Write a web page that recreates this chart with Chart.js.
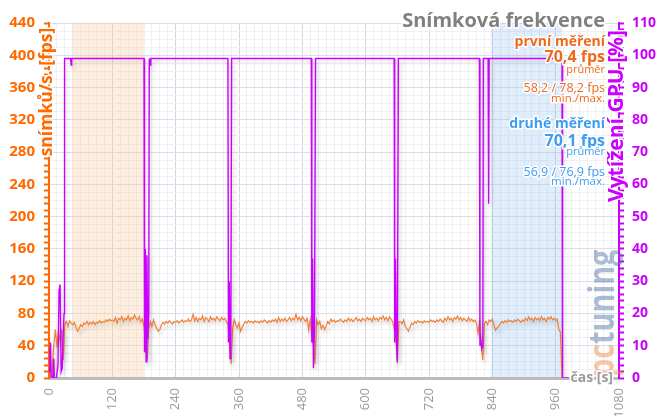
<!DOCTYPE html>
<html>
<head>
<meta charset="utf-8">
<script src="https://cdn.jsdelivr.net/npm/chart.js@4.4.1/dist/chart.umd.min.js"></script>
<style>
  html, body { margin: 0; padding: 0; background: #fff; }
</style>
</head>
<body>
<canvas id="chart" width="659" height="418"></canvas>
<script>
// snímková frekvence, vzorek každé 3 s (0 .. 972 s)
const fpsStep = 3;
const fpsValues = [
  0, 2, 12, 40, 60, 38, 58, 45, 60, 22, 66,
  70, 64, 71, 68, 66, 69, 63, 58, 61, 66, 64, 68, 67, 70, 66, 69, 67, 70, 66, 69, 68, 71, 68, 70, 69, 72, 70, 73, 71, 72, 70, 75, 68, 74, 72, 76, 70, 74, 72, 77, 71, 75, 73, 78, 74, 72, 76, 70, 73,
  64, 42, 23, 60,
  70, 64, 72, 66, 62, 58, 60, 66, 69, 67, 70, 68, 71, 69, 67, 70, 69, 71, 68, 70, 72, 69, 71, 70, 73, 70, 72, 79, 71, 75, 70, 74, 72, 77, 70, 75, 73, 70, 76, 72, 74, 71, 76, 73, 71, 75, 72, 74, 70,
  66, 45, 17, 62,
  72, 66, 62, 68, 58, 63, 67, 70, 68, 71, 69, 70, 68, 71, 69, 70, 68, 71, 69, 72, 70, 68, 71, 69, 72, 70, 73, 69, 75, 70, 73, 71, 74, 70, 72, 75, 71, 74, 72, 79, 72, 75, 71, 76, 73, 70, 74, 59, 72,
  55, 40, 17, 72,
  66, 70, 61, 65, 60, 64, 70, 67, 73, 70, 72, 69, 71, 70, 73, 71, 69, 72, 70, 74, 71, 73, 70, 72, 75, 71, 73, 70, 74, 72, 71, 75, 72, 74, 70, 76, 72, 74, 71, 75, 73, 77, 72, 75, 71, 76, 73, 70,
  62, 48, 18, 70,
  70, 67, 72, 64, 61, 58, 63, 68, 66, 70, 68, 71, 69, 70, 68, 71, 69, 70, 69, 72, 70, 71, 69, 72, 70, 73, 71, 69, 74, 71, 76, 72, 74, 70, 75, 73, 77, 72, 75, 71, 74, 72, 70, 75, 71, 73, 70, 72, 68,
  55, 72, 40, 22, 68,
  70, 66, 72, 70, 73, 66, 59, 62, 64, 67, 70, 68, 71, 69, 72, 70, 71, 69, 72, 70, 73, 71, 69, 72, 70, 74, 71, 76, 72, 74, 70, 75, 72, 74, 71, 76, 72, 74, 70, 75, 73, 76, 72, 74, 71, 73, 60, 57,
  0
];

// vytížení GPU [%]
const gpuTimes = [0, 1.5, 3, 4, 7, 9, 10, 14, 17, 19, 21, 23, 25, 27, 28.5, 29.5, 41, 42, 43,
  180, 181, 182.5, 184, 185.5, 187, 189, 190, 191, 192, 193,
  339, 340, 341.5, 343, 344.5, 346,
  497, 498, 499.5, 501, 503, 505,
  654, 655, 656.5, 658, 660, 662,
  815.5, 816.5, 818, 820, 822, 823, 832, 833, 834,
  972, 973, 984];
const gpuValues = [2, 8, 11, 0, 0, 6, 0, 0, 4, 27, 29, 2, 3, 14, 20, 99, 99, 97, 99,
  99, 8, 40, 5, 38, 12, 20, 99, 97, 97, 99,
  99, 11, 30, 6, 12, 99,
  99, 11, 37, 3, 15, 99,
  99, 11, 37, 14, 5, 99,
  99, 10, 12, 9, 10, 99, 99, 54, 99,
  99, 0, 0];

// zvýrazněné úseky měření [s]
const firstRun = [44, 180];
const secondRun = [838, 972];

const timeLabels = [0, 120, 240, 360, 480, 600, 720, 840, 960, 1080];
const fpsLabels = [0, 40, 80, 120, 160, 200, 240, 280, 320, 360, 400, 440];
const gpuLabels = [0, 10, 20, 30, 40, 50, 60, 70, 80, 90, 100, 110];

const firstStats = ['první měření', '70,4 fps', 'průměr', '58,2 / 78,2 fps', 'min./max.'];
const secondStats = ['druhé měření', '70,1 fps', 'průměr', '56,9 / 76,9 fps', 'min./max.'];

const FONT = '"Open Sans", "DejaVu Sans", sans-serif';
const ORANGE = '#ff6a00';
const PURPLE = '#cc00ff';

const fpsPoints = fpsValues.map((v, i) => ({ x: i * fpsStep, y: v }));
const gpuPoints = gpuTimes.map((t, i) => ({ x: t, y: gpuValues[i] }));

const runBands = {
  id: 'runBands',
  beforeDatasetsDraw(chart) {
    const { ctx, chartArea, scales } = chart;
    const draw = (range, color) => {
      const x0 = scales.x.getPixelForValue(range[0]);
      const x1 = scales.x.getPixelForValue(range[1]);
      ctx.fillStyle = color;
      ctx.fillRect(x0, chartArea.top, x1 - x0, chartArea.bottom - chartArea.top - 1);
    };
    ctx.save();
    draw(firstRun, 'rgba(250, 200, 150, 0.3)');
    draw(secondRun, 'rgba(100, 170, 240, 0.2)');
    ctx.restore();
  }
};

const lineShadow = {
  id: 'lineShadow',
  beforeDatasetDraw(chart) {
    const ctx = chart.ctx;
    ctx.save();
    ctx.shadowColor = 'rgba(0, 0, 0, 0.18)';
    ctx.shadowBlur = 4;
    ctx.shadowOffsetX = 2;
    ctx.shadowOffsetY = 3;
  },
  afterDatasetDraw(chart) {
    chart.ctx.restore();
  }
};

function haloText(ctx, text, x, y, font, color) {
  ctx.font = font;
  ctx.lineJoin = 'round';
  ctx.lineWidth = 3;
  ctx.strokeStyle = '#fff';
  ctx.strokeText(text, x, y);
  ctx.fillStyle = color;
  ctx.fillText(text, x, y);
}

const captions = {
  id: 'captions',
  afterDraw(chart) {
    const ctx = chart.ctx;
    ctx.save();

    // watermark
    ctx.save();
    ctx.translate(614, 377);
    ctx.rotate(-Math.PI / 2);
    ctx.scale(0.8, 1);
    ctx.font = 'bold 36px ' + FONT;
    ctx.textAlign = 'left';
    ctx.textBaseline = 'alphabetic';
    ctx.fillStyle = 'rgba(240, 130, 60, 0.45)';
    ctx.fillText('pc', 0, 0);
    const w = ctx.measureText('pc').width;
    ctx.fillStyle = 'rgba(70, 110, 160, 0.45)';
    ctx.fillText('tuning', w, 0);
    ctx.restore();

    ctx.textAlign = 'right';
    ctx.textBaseline = 'alphabetic';
    haloText(ctx, 'Snímková frekvence', 605, 27, 'bold 20px ' + FONT, '#808080');

    const orange = '#ee6a1a';
    haloText(ctx, firstStats[0], 605, 46, 'bold 14px ' + FONT, orange);
    haloText(ctx, firstStats[1], 605, 62, 'bold 16px ' + FONT, orange);
    haloText(ctx, firstStats[2], 605, 73, '11px ' + FONT, orange);
    haloText(ctx, firstStats[3], 605, 92, '12.5px ' + FONT, orange);
    haloText(ctx, firstStats[4], 605, 101.5, '11.5px ' + FONT, orange);

    const blue = '#3d9df2';
    haloText(ctx, secondStats[0], 605, 128, 'bold 14px ' + FONT, blue);
    haloText(ctx, secondStats[1], 605, 146, 'bold 16px ' + FONT, blue);
    haloText(ctx, secondStats[2], 605, 155, '11px ' + FONT, blue);
    haloText(ctx, secondStats[3], 605, 176, '12.5px ' + FONT, blue);
    haloText(ctx, secondStats[4], 605, 185, '11.5px ' + FONT, blue);

    haloText(ctx, 'čas [s]', 613, 382, 'bold 14px ' + FONT, '#9a9a9a');

    // axis titles
    ctx.textAlign = 'center';
    ctx.textBaseline = 'middle';
    ctx.save();
    ctx.translate(47, 92);
    ctx.rotate(-Math.PI / 2);
    haloText(ctx, 'snímků/s. [fps]', 0, 0, 'bold 17.5px ' + FONT, ORANGE);
    ctx.restore();

    ctx.save();
    ctx.translate(617, 116);
    ctx.rotate(-Math.PI / 2);
    haloText(ctx, 'Vytížení GPU [%]', 0, 0, 'bold 21px ' + FONT, PURPLE);
    ctx.restore();

    ctx.restore();
  }
};

new Chart(document.getElementById('chart'), {
  type: 'line',
  data: {
    datasets: [
      {
        label: 'Vytížení GPU',
        data: gpuPoints,
        yAxisID: 'y1',
        borderColor: PURPLE,
        borderWidth: 1.4,
        pointRadius: 0,
        tension: 0,
        order: 0
      },
      {
        label: 'snímků/s.',
        data: fpsPoints,
        yAxisID: 'y',
        borderColor: '#f0803a',
        borderWidth: 1.2,
        pointRadius: 0,
        tension: 0,
        order: 1
      }
    ]
  },
  options: {
    responsive: false,
    animation: false,
    events: [],
    layout: { padding: { top: 23, left: 0, right: 0, bottom: 0 } },
    plugins: {
      legend: { display: false },
      tooltip: { enabled: false }
    },
    scales: {
      x: {
        type: 'linear',
        min: 0,
        max: 1080,
        afterFit: s => { s.height = 40; },
        ticks: {
          stepSize: 15,
          autoSkip: false,
          minRotation: 90,
          maxRotation: 90,
          padding: 10,
          color: '#9a9a9a',
          font: { family: FONT, size: 13 },
          callback: v => timeLabels.includes(v) ? String(v) : ''
        },
        grid: {
          drawTicks: false,
          color: c => c.tick && c.tick.value % 120 === 0 ? '#d6d7e0' : '#efeff4'
        },
        border: { color: '#bbbbbb', width: 3 }
      },
      yg: {
        position: 'left',
        min: 0,
        max: 440,
        afterFit: s => { s.width = 0; },
        ticks: { display: false, stepSize: 10, autoSkip: false },
        grid: {
          drawTicks: false,
          color: c => c.tick && c.tick.value % 40 === 0 ? '#dcdfe9' : '#efeff4'
        },
        border: { display: false }
      },
      y: {
        position: 'left',
        min: 0,
        max: 440,
        afterFit: s => { s.width = 49; },
        ticks: {
          stepSize: 8,
          autoSkip: false,
          padding: 9,
          color: ORANGE,
          font: { family: FONT, size: 15, weight: 'bold' },
          callback: v => fpsLabels.includes(v) ? String(v) : ''
        },
        grid: { drawOnChartArea: false, color: ORANGE, tickLength: 5, tickWidth: 2 },
        border: { color: ORANGE, width: 2 }
      },
      y1: {
        position: 'right',
        min: 0,
        max: 110,
        afterFit: s => { s.width = 40; },
        ticks: {
          stepSize: 2,
          autoSkip: false,
          padding: 8,
          color: PURPLE,
          font: { family: FONT, size: 14, weight: 'bold' },
          callback: v => gpuLabels.includes(v) ? String(v) : ''
        },
        grid: { drawOnChartArea: false, color: PURPLE, tickLength: 5, tickWidth: 2 },
        border: { color: PURPLE, width: 2 }
      }
    }
  },
  plugins: [runBands, lineShadow, captions]
});
</script>
</body>
</html>
